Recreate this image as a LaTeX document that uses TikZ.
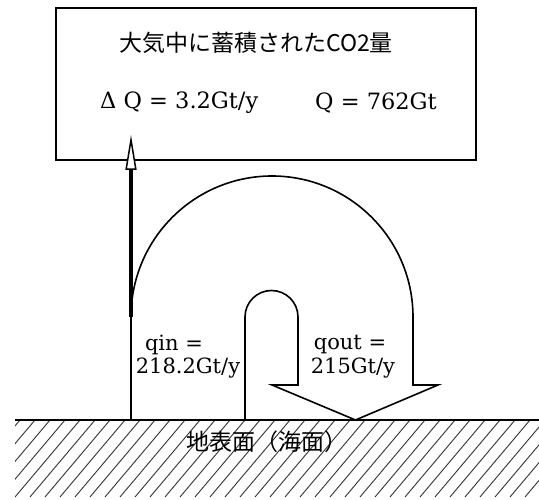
\documentclass[tikz,border=0pt]{standalone}
\usepackage{fontspec}
\setmainfont{DejaVu Serif}
\newfontfamily\jpfont{Noto Sans CJK JP}
\usetikzlibrary{arrows.meta}

\begin{document}
\begin{tikzpicture}[x=1pt,y=1pt,
    txt/.style={font=\fontsize{21}{23}\selectfont,inner sep=0pt},
    boxtxt/.style={font=\fontsize{22.5}{24}\selectfont,inner sep=0pt},
    jptxt/.style={font=\jpfont\fontsize{23}{25}\selectfont,inner sep=0pt},
    flow/.style={line width=1.6pt,line join=miter},
    hatch/.style={line width=0.9pt,black!80},
]
    \useasboundingbox (0,0) rectangle (539,499);
    % atmosphere box
    \node[draw,line width=1.8pt,minimum width=420pt,minimum height=152pt,anchor=south west] (atmos) at (55,338) {};
    \node[jptxt] (title) at (256,456) {大気中に蓄積されたCO2量};
    \node[boxtxt,anchor=west] (dq) at (100,396) {Δ Q = 3.2Gt/y};
    \node[boxtxt,anchor=west] (qtot) at (315,396) {Q = 762Gt};
    % ground with hatching
    \begin{scope}
        \clip (15,2) rectangle (539,79);
        \foreach \hx in {-60,-45,...,540}
            \draw[hatch] (\hx,2) -- ++(65,77);
    \end{scope}
    \draw[line width=2pt] (15,79) -- (539,79);
    \node[jptxt] (ground) at (267,57) {地表面（海面）};
    % carbon flow band
    \draw[flow] (131,79) -- (131,182) arc[start angle=180,end angle=0,radius=141]
        -- (413,114) -- (438,114) -- (355.5,79) -- (272,114) -- (298,114)
        -- (298,182) arc[start angle=0,end angle=180,radius=26.5] -- (245,79);
    \coordinate (netbase) at (131,182);
    \coordinate (nettip) at (131,364);
    \draw[line width=4pt,-{Triangle[fill=white,line width=1.5pt,length=35pt,width=11pt]}] (netbase) -- (nettip);
    % flux labels
    \node[txt] (qin) at (174,154) {qin =};
    \node[txt] (qinval) at (188,131) {218.2Gt/y};
    \node[txt] (qout) at (350,154) {qout =};
    \node[txt] (qoutval) at (353,131) {215Gt/y};
\end{tikzpicture}
\end{document}
